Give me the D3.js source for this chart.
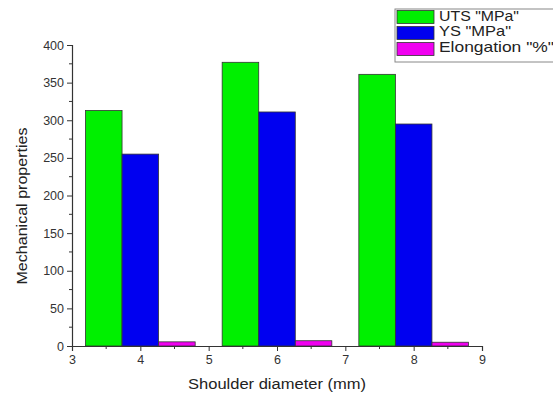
<!DOCTYPE html>
<html>
<head>
<meta charset="utf-8">
<script src="https://cdn.jsdelivr.net/npm/d3@7/dist/d3.min.js"></script>
<style>
  html, body { margin: 0; padding: 0; background: #fff; }
  svg { display: block; font-family: "Liberation Sans", Arial, sans-serif; }
</style>
</head>
<body>
<svg id="chart" width="553" height="395"></svg>
<script>
// Shoulder diameters (mm) and the measured properties at each
const diameters = [4, 6, 8];
const utsValues = [313, 377, 361];
const ysValues = [255, 311, 295];
const elongationValues = [5.5, 7, 5];

const seriesNames = ['UTS "MPa"', 'YS "MPa"', 'Elongation "%"'];
const seriesColors = ["#00f000", "#0000f0", "#f000f0"];
const xTicks = [3, 4, 5, 6, 7, 8, 9];
const yTicks = [0, 50, 100, 150, 200, 250, 300, 350, 400];

const series = [utsValues, ysValues, elongationValues];

const svg = d3.select("#chart");
const margin = { left: 72, right: 71, top: 45, bottom: 49 };
const W = 553, H = 395;

const x = d3.scaleLinear().domain([3, 9]).range([margin.left, W - margin.right]);
const y = d3.scaleLinear().domain([0, 400]).range([H - margin.bottom, margin.top]);

const barW = 0.535; // width of one bar, in mm along the axis
const offsets = [-barW, 0, barW];

// Bars
series.forEach((vals, si) => {
  svg.append("g")
    .selectAll("rect")
    .data(diameters.map((d, i) => ({ d, v: vals[i] })))
    .join("rect")
    .attr("x", p => x(p.d + offsets[si] - barW / 2))
    .attr("width", p => x(p.d + offsets[si] + barW / 2) - x(p.d + offsets[si] - barW / 2))
    .attr("y", p => y(p.v))
    .attr("height", p => y(0) - y(p.v))
    .attr("fill", seriesColors[si])
    .attr("stroke", "#333")
    .attr("stroke-width", 0.8);
});

// Axes
const axisColor = "#333";
const yMinor = d3.range(25, 400, 50);
const xMinor = d3.range(3.5, 9, 1);

const gy = svg.append("g").attr("transform", `translate(${margin.left},0)`);
gy.call(d3.axisLeft(y).tickValues(yTicks).tickSize(5).tickPadding(3));
gy.append("g").selectAll("line").data(yMinor).join("line")
  .attr("x1", -3).attr("x2", 0).attr("y1", d => y(d)).attr("y2", d => y(d))
  .attr("stroke", axisColor);

const gx = svg.append("g").attr("transform", `translate(0,${H - margin.bottom})`);
gx.call(d3.axisBottom(x).tickValues(xTicks).tickFormat(d3.format("d")).tickSize(5).tickPadding(4));
gx.append("g").selectAll("line").data(xMinor).join("line")
  .attr("x1", d => x(d)).attr("x2", d => x(d)).attr("y1", 0).attr("y2", 3)
  .attr("stroke", axisColor);

[gx, gy].forEach(g => {
  g.select(".domain").attr("stroke", axisColor).attr("stroke-width", 1.2);
  g.selectAll(".tick line").attr("stroke", axisColor);
  g.selectAll(".tick text").attr("fill", "#333").style("font-size", "12.5px")
    .style("font-family", '"Liberation Sans", Arial, sans-serif');
});

// Axis titles
svg.append("text")
  .attr("x", (x(3) + x(9)) / 2).attr("y", 389)
  .attr("text-anchor", "middle").attr("fill", "#222")
  .attr("textLength", 178).attr("lengthAdjust", "spacingAndGlyphs")
  .style("font-size", "15.5px")
  .text("Shoulder diameter (mm)");

svg.append("text")
  .attr("transform", "translate(27,206) rotate(-90)")
  .attr("text-anchor", "middle").attr("fill", "#222")
  .attr("textLength", 157).attr("lengthAdjust", "spacingAndGlyphs")
  .style("font-size", "14.5px")
  .text("Mechanical properties");

// Legend
const legendWidths = [80, 72, 115];
const lg = svg.append("g").attr("transform", "translate(395,9)");
lg.append("rect").attr("x", 0).attr("y", 0).attr("width", 170).attr("height", 53)
  .attr("fill", "#fff").attr("stroke", "#888").attr("stroke-width", 1);
seriesNames.forEach((name, i) => {
  lg.append("rect").attr("x", 2).attr("y", 1.5 + i * 16).attr("width", 37).attr("height", 13)
    .attr("fill", seriesColors[i]).attr("stroke", "#333").attr("stroke-width", 0.8);
  lg.append("text").attr("x", 44).attr("y", 11.8 + i * 15.5)
    .attr("fill", "#222").style("font-size", "14.5px")
    .attr("textLength", legendWidths[i]).attr("lengthAdjust", "spacingAndGlyphs")
    .text(name);
});
</script>
</body>
</html>
